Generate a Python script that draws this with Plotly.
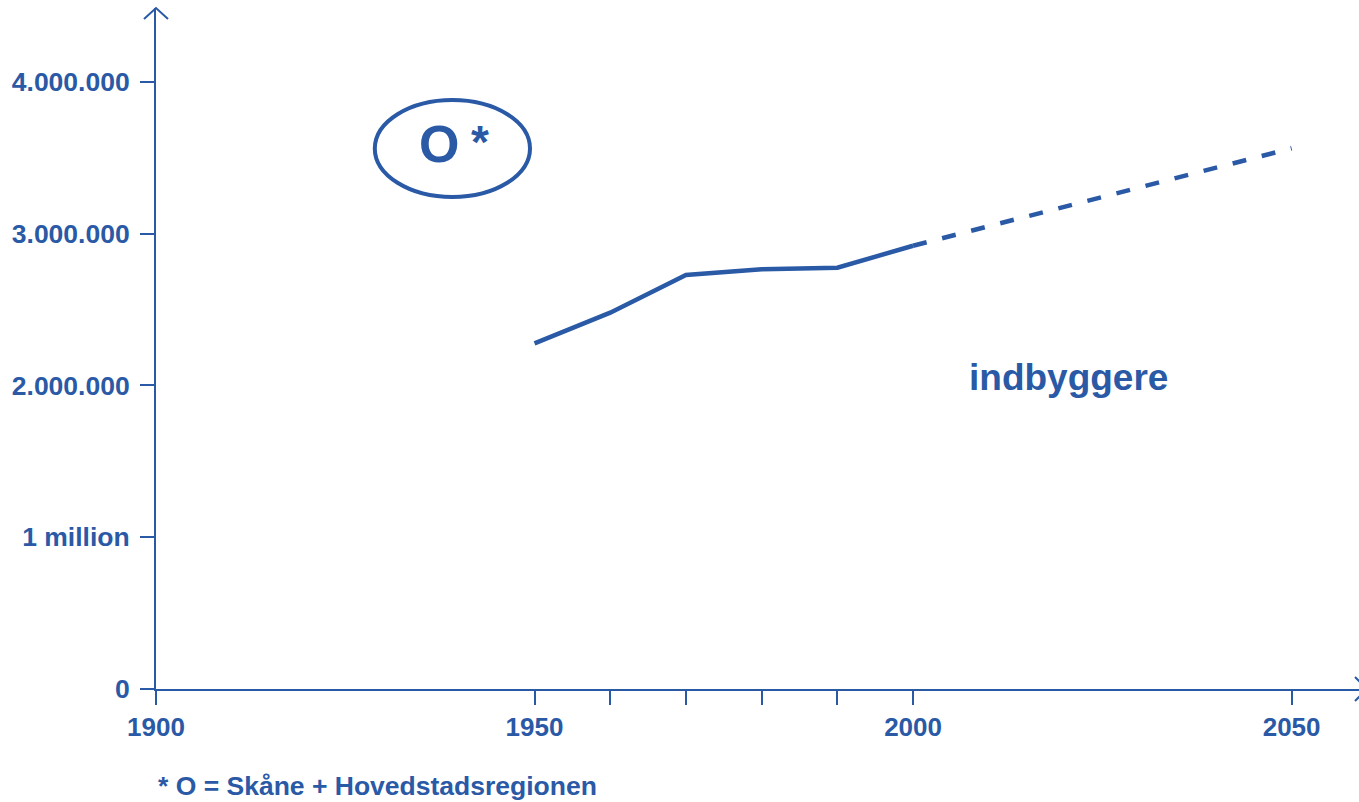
import plotly.graph_objects as go

BLUE = "#2A59A6"
FONT = "Liberation Sans"

years_hist = [1950, 1960, 1970, 1980, 1990, 2000]
pop_hist = [2277000, 2479000, 2727000, 2765000, 2775000, 2920000]
years_proj = [2000, 2050]
pop_proj = [2920000, 3562000]

x_tickvals = [1900, 1950, 1960, 1970, 1980, 1990, 2000, 2050]
x_ticktext = ["1900", "1950", "", "", "", "", "2000", "2050"]
y_tickvals = [0, 1000000, 2000000, 3000000, 4000000]
y_ticktext = ["0", "1 million", "2.000.000", "3.000.000", "4.000.000"]

fig = go.Figure()
fig.add_trace(go.Scatter(x=years_proj, y=pop_proj, mode="lines",
                         line=dict(color=BLUE, width=4.5, dash="14px,16px"),
                         hoverinfo="skip", showlegend=False))
fig.add_trace(go.Scatter(x=years_hist, y=pop_hist, mode="lines",
                         line=dict(color=BLUE, width=4.5),
                         showlegend=False))

fig.update_layout(
    width=1359, height=802,
    margin=dict(l=156, r=0, t=8, b=113),
    paper_bgcolor="white", plot_bgcolor="white",
    font=dict(family=FONT, color=BLUE),
    xaxis=dict(range=[1900, 2058.9], tickvals=x_tickvals, ticktext=x_ticktext,
               showline=True, linecolor=BLUE, linewidth=2,
               ticks="outside", ticklen=14, tickwidth=2, tickcolor=BLUE,
               showgrid=False, zeroline=False,
               tickfont=dict(family=FONT, size=26, color=BLUE, weight="bold")),
    yaxis=dict(range=[0, 4486000], tickvals=y_tickvals, ticktext=y_ticktext,
               showline=True, linecolor=BLUE, linewidth=2,
               ticks="outside", ticklen=14, tickwidth=2, tickcolor=BLUE,
               showgrid=False, zeroline=False, ticklabelstandoff=5,
               tickfont=dict(family=FONT, size=26.5, color=BLUE, weight="bold")),
)

# axis arrowheads
fig.add_shape(type="path", xref="paper", yref="paper", xsizemode="pixel", ysizemode="pixel",
              xanchor=0, yanchor=1, path="M -12,-11 L 0,0 L 12,-11",
              line=dict(color=BLUE, width=2))
fig.add_shape(type="path", xref="paper", yref="paper", xsizemode="pixel", ysizemode="pixel",
              xanchor=1, yanchor=0, path="M -4,12 L 8,0 L -4,-12",
              line=dict(color=BLUE, width=2))

# ellipse with O*
fig.add_shape(type="circle", xref="x", yref="y", x0=1928.9, x1=1949.4, y0=3241000, y1=3880000,
              line=dict(color=BLUE, width=4))
fig.add_annotation(x=1937.4, y=3590000, xref="x", yref="y", text="O", showarrow=False,
                   font=dict(family=FONT, size=52, color=BLUE, weight="bold"))
fig.add_annotation(x=1942.8, y=3604000, xref="x", yref="y", text="*", showarrow=False,
                   font=dict(family=FONT, size=46, color=BLUE, weight="bold"))

fig.add_annotation(x=2020.5, y=2049000, xref="x", yref="y", text="indbyggere", showarrow=False,
                   font=dict(family=FONT, size=37, color=BLUE, weight="bold"))

fig.add_annotation(x=0, y=-0.143, xref="paper", yref="paper", xanchor="left", yanchor="middle",
                   text="* O = Skåne + Hovedstadsregionen", showarrow=False,
                   font=dict(family=FONT, size=26.5, color=BLUE, weight="bold"))

fig.write_html("out.html", config={"displayModeBar": False},
               post_script="document.body.style.margin='0';document.body.style.overflow='hidden';")
